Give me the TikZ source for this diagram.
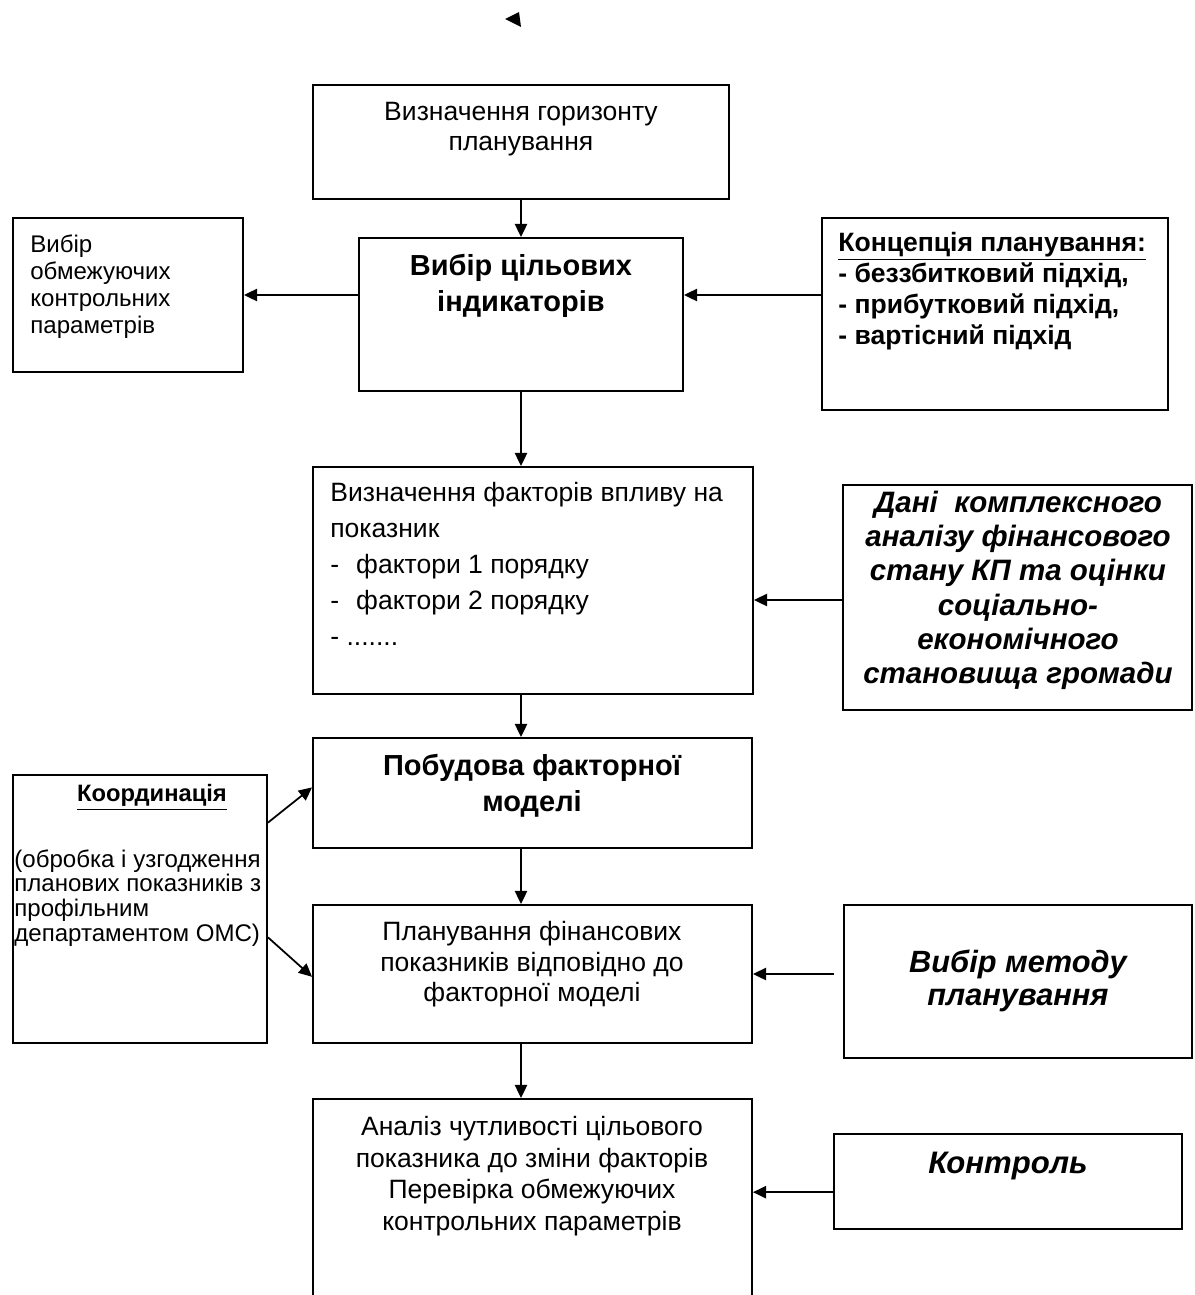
\documentclass[tikz,border=0pt]{standalone}
\usepackage{fontspec}
\setmainfont{Liberation Sans}
\usetikzlibrary{arrows.meta,calc,fit}

\tikzset{
  box/.style={draw,line width=1.1pt,inner sep=0pt},
  arr/.style={line width=1pt,-{Triangle[length=7.5pt,width=7pt]}},
  txt/.style={inner sep=0pt,align=center,anchor=north},
  txtl/.style={inner sep=0pt,align=left,anchor=north west},
}

\begin{document}
\begin{tikzpicture}[x=0.02cm,y=-0.02cm]
\useasboundingbox (0,0) rectangle (1194,1295);
\clip (0,0) rectangle (1194,1295);

% boxes
\node[box,fit={(313,85) (729,199)}] (horizon) {};
\node[box,fit={(359,238) (683,391)}] (targets) {};
\node[box,fit={(13,218) (243,372)}] (limits) {};
\node[box,fit={(822,218) (1168,410)}] (concept) {};
\node[box,fit={(313,467) (753,694)}] (factors) {};
\node[box,fit={(843,485) (1192,710)}] (data) {};
\node[box,fit={(313,738) (752,848)}] (model) {};
\node[box,fit={(13,775) (267,1043)}] (coord) {};
\node[box,fit={(313,905) (752,1043)}] (plan) {};
\node[box,fit={(844,905) (1192,1058)}] (method) {};
\node[box,fit={(313,1099) (752,1320)}] (analysis) {};
\node[box,fit={(834,1134) (1182,1229)}] (control) {};

% texts
\node[txt,font=\fontsize{15.1}{17}\selectfont] (horizon-t) at (521,102)
  {Визначення горизонту\\планування};
\node[txt,font=\fontsize{16.5}{20.5}\selectfont\bfseries] (targets-t) at (521,254)
  {Вибір цільових\\індикаторів};
\node[txtl,font=\fontsize{13.7}{15.4}\selectfont] (limits-t) at (30,234)
  {Вибір\\обмежуючих\\контрольних\\параметрів};
\node[txtl,font=\fontsize{15.1}{17.6}\selectfont\bfseries] (concept-t) at (838,232)
  {\underline{Концепція планування:}\\- беззбитковий підхід,\\- прибутковий підхід,\\- вартісний підхід};
\node[txtl,font=\fontsize{15.1}{20.5}\selectfont] (factors-t) at (330,482)
  {Визначення факторів впливу на\\показник\\-\hspace{0.64em}фактори 1 порядку\\-\hspace{0.64em}фактори 2 порядку\\- .......};
\node[txt,font=\fontsize{16.8}{19.4}\selectfont\bfseries\itshape] (data-t) at (1018,491)
  {Дані\ \ комплексного\\аналізу фінансового\\стану КП та оцінки\\соціально-\\економічного\\становища громади};
\node[txt,font=\fontsize{16.5}{20.5}\selectfont\bfseries] (model-t) at (532,754)
  {Побудова факторної\\моделі};
\node[txt,font=\fontsize{13.5}{14.2}\selectfont\bfseries] (coord-h) at (152,784)
  {\underline{Координація}};
\node[txtl,font=\fontsize{13.7}{14.2}\selectfont] (coord-t) at (14,849)
  {(обробка і узгодження\\планових показників з\\профільним\\департаментом ОМС)};
\node[txt,font=\fontsize{15.1}{17.4}\selectfont] (plan-t) at (532,921)
  {Планування фінансових\\показників відповідно до\\факторної моделі};
\node[txt,font=\fontsize{17.5}{18.8}\selectfont\bfseries\itshape] (method-t) at (1018,950)
  {Вибір методу\\планування};
\node[txt,font=\fontsize{15.1}{18}\selectfont] (analysis-t) at (532,1116)
  {Аналіз чутливості цільового\\показника до зміни факторів\\Перевірка обмежуючих\\контрольних параметрів};
\node[txt,font=\fontsize{17.7}{19}\selectfont\bfseries\itshape] (control-t) at (1008,1152)
  {Контроль};

% main chain
\coordinate (spine) at (521,0);
\draw[arr] (horizon.south -| spine) -- (targets.north -| spine);
\draw[arr] (targets.south -| spine) -- (factors.north -| spine);
\draw[arr] (factors.south -| spine) -- (model.north -| spine);
\draw[arr] (model.south -| spine) -- (plan.north -| spine);
\draw[arr] (plan.south -| spine) -- (analysis.north -| spine);

% side inputs
\draw[arr] (targets.west |- limits.east) -- (limits.east);
\draw[arr] (concept.west |- limits.east) -- (targets.east |- limits.east);
\draw[arr] (data.west |- 0,600) -- (factors.east |- 0,600);
\draw[arr] ($(coord.north east)!0.18!(coord.south east)$) -- ($(model.north west)!0.45!(model.south west)$);
\draw[arr] ($(coord.north east)!0.605!(coord.south east)$) -- ($(plan.north west)!0.52!(plan.south west)$);
\draw[arr,shorten <=0.18cm] (method.west |- plan.east) -- (plan.east);
\draw[arr] ($(control.north west)!0.61!(control.south west)$) coordinate (ctl) -- (ctl -| analysis.east);

% loose tip at the top
\fill (505,19) -- (519,12) -- (521,27) -- cycle;
\end{tikzpicture}
\end{document}
